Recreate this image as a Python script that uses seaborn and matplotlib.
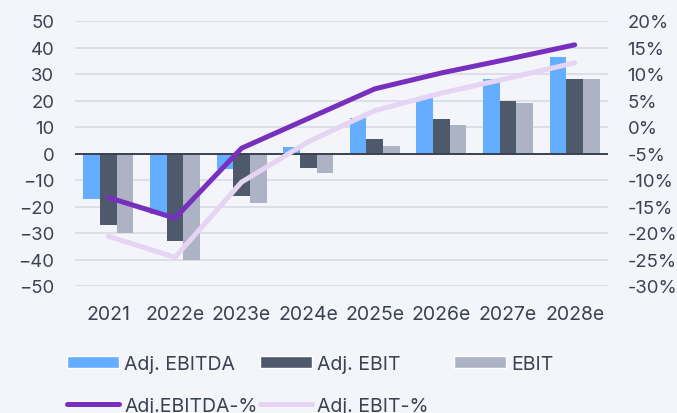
import numpy as np
import pandas as pd
import matplotlib
matplotlib.use("Agg")
import matplotlib.pyplot as plt
import seaborn as sns
from matplotlib.patches import Patch
from matplotlib.lines import Line2D

years = ["2021", "2022e", "2023e", "2024e", "2025e", "2026e", "2027e", "2028e"]
adj_ebitda = [-17, -23, -6, 2.5, 13.5, 21.5, 28, 36.5]
adj_ebit = [-27, -33, -16, -5.3, 5.4, 13, 20, 28.2]
ebit = [-30, -40, -18.5, -7.5, 3, 10.6, 19, 28.2]
adj_ebitda_pct = [-13.3, -17.2, -4.0, 1.6, 7.2, 10.2, 12.8, 15.5]
adj_ebit_pct = [-20.6, -24.6, -10.4, -2.8, 3.1, 6.4, 9.2, 12.1]

bar_names = ["Adj. EBITDA", "Adj. EBIT", "EBIT"]
line_names = ["Adj.EBITDA-%", "Adj. EBIT-%"]
left_ticks = [-50, -40, -30, -20, -10, 0, 10, 20, 30, 40, 50]
right_ticks = [-30, -25, -20, -15, -10, -5, 0, 5, 10, 15, 20]

bar_colors = ["#65AEFF", "#4E5A6C", "#ADB2C4"]
line_colors = ["#7730BE", "#E5D4F3"]
bg = "#F3F5FA"
text_c = "#3A4150"

sns.set_theme(style="white")
plt.rcParams["font.family"] = ["Inter", "DejaVu Sans"]

df = pd.DataFrame({
    "year": years * 3,
    "value": adj_ebitda + adj_ebit + ebit,
    "metric": [bar_names[0]] * 8 + [bar_names[1]] * 8 + [bar_names[2]] * 8,
})
dl = pd.DataFrame({
    "year": years * 2,
    "pct": adj_ebitda_pct + adj_ebit_pct,
    "metric": [line_names[0]] * 8 + [line_names[1]] * 8,
})

fig = plt.figure(figsize=(6.77, 4.14), dpi=100, facecolor=bg)
ax = fig.add_axes([75 / 677, 1 - 287 / 414, (608 - 75) / 677, (287 - 22) / 414])
ax.set_facecolor(bg)

sns.barplot(data=df, x="year", y="value", hue="metric", palette=bar_colors,
            width=0.75, ax=ax, legend=False, saturation=1, linewidth=0)
ax.set_ylim(-50, 50)
ax.set_yticks(left_ticks)
ax.set_xlim(-0.5, len(years) - 0.5)
ax.yaxis.grid(True, color="#DCE0E6", linewidth=1.4)
ax.set_axisbelow(True)
ax.axhline(0, color="#3A4150", linewidth=1.4, zorder=2)
for s in ax.spines.values():
    s.set_visible(False)
ax.set_xlabel("")
ax.set_ylabel("")
ax.tick_params(axis="y", length=0, pad=15, labelsize=13.3, labelcolor=text_c)
ax.tick_params(axis="x", length=0, pad=14, labelsize=14, labelcolor=text_c)

ax2 = ax.twinx()
sns.lineplot(data=dl, x="year", y="pct", hue="metric", palette=line_colors,
             linewidth=3.6, ax=ax2, legend=False, sort=False)
ax2.set_ylim(-30, 20)
ax2.set_yticks(right_ticks)
ax2.set_yticklabels([f"{t}%" for t in right_ticks])
ax2.set_ylabel("")
for s in ax2.spines.values():
    s.set_visible(False)
ax2.tick_params(axis="y", length=0, pad=14, labelsize=13.3, labelcolor=text_c)
ax2.set_xlim(-0.5, len(years) - 0.5)

# legend entries
entries = [
    (Patch(facecolor=bar_colors[0]), bar_names[0], 67, 365),
    (Patch(facecolor=bar_colors[1]), bar_names[1], 260, 365),
    (Patch(facecolor=bar_colors[2]), bar_names[2], 454, 365),
    (Line2D([], [], color=line_colors[0], linewidth=3.6, solid_capstyle="round"), line_names[0], 67, 407),
    (Line2D([], [], color=line_colors[1], linewidth=3.6, solid_capstyle="round"), line_names[1], 260, 407),
]
for h, lab, px, py in entries:
    fig.legend(handles=[h], labels=[lab], loc="center left",
               bbox_to_anchor=(px / 677, 1 - py / 414), frameon=False,
               borderpad=0, borderaxespad=0, handlelength=2.68, handleheight=0.62,
               handletextpad=0.26, fontsize=14, labelcolor=text_c)

fig.savefig("out.png", dpi=100, facecolor=bg)
